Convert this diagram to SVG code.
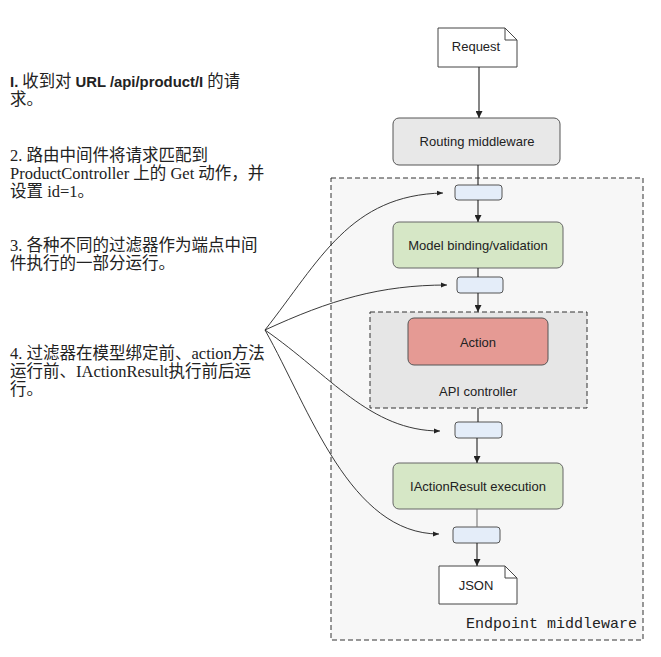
<svg xmlns="http://www.w3.org/2000/svg" width="661" height="657" viewBox="0 0 661 657">
<defs>
<marker id="arr" viewBox="0 0 10 10" refX="10" refY="5" markerWidth="7" markerHeight="7" markerUnits="userSpaceOnUse" orient="auto">
<path d="M0,0 L10,5 L0,10 z" fill="#222"/>
</marker>
<marker id="arrs" viewBox="0 0 10 10" refX="10" refY="5" markerWidth="6" markerHeight="6" markerUnits="userSpaceOnUse" orient="auto">
<path d="M0,1 L10,5 L0,9 z" fill="#222"/>
</marker>
</defs>
<style>
.node{font-family:"Liberation Sans",Arial,sans-serif;font-size:13px;fill:#222;text-anchor:middle}
.note{font-family:"Liberation Serif","Noto Sans CJK SC",serif;font-size:16.5px;fill:#222}
.b{font-family:"Liberation Sans","Noto Sans CJK SC",sans-serif;font-weight:bold;font-size:15px}
.filter{fill:#e4edf9;stroke:#555;stroke-width:1}
.green{fill:#d6e7c6;stroke:#666;stroke-width:1}
.doc{fill:#fff;stroke:#444;stroke-width:1}
.conn{stroke:#222;stroke-width:1.1;fill:none}
.curve{stroke:#222;stroke-width:0.9;fill:none}
</style>
<rect width="661" height="657" fill="#fff"/>

<g id="endpoint">
<rect x="331" y="178" width="312" height="462" fill="#f7f7f7" stroke="#333" stroke-width="1" stroke-dasharray="5,3"/>
<text x="637" y="628" font-family="'Liberation Mono','Courier New',monospace" font-size="15" fill="#222" text-anchor="end">Endpoint middleware</text>
</g>

<g id="api-controller">
<rect x="370" y="312" width="217" height="96" fill="#e6e6e6" stroke="#333" stroke-width="1" stroke-dasharray="5,3"/>
<text class="node" x="478" y="396">API controller</text>
</g>

<g id="request">
<path class="doc" d="M438,28 H505 L517,40 V67 H438 Z"/>
<path d="M505,28 V40 H517" fill="none" stroke="#444" stroke-width="1"/>
<text class="node" x="476" y="51">Request</text>
</g>

<g id="routing">
<rect x="393" y="118" width="167" height="47" rx="6" fill="#e8e8e8" stroke="#555"/>
<text class="node" x="477" y="146">Routing middleware</text>
</g>

<g id="filter1"><rect class="filter" x="455" y="185" width="47" height="15" rx="3"/></g>

<g id="model-binding">
<rect class="green" x="393" y="222" width="170" height="46" rx="6"/>
<text class="node" x="478" y="250">Model binding/validation</text>
</g>

<g id="filter2"><rect class="filter" x="457" y="277" width="46" height="16" rx="3"/></g>

<g id="action">
<rect x="408" y="318" width="140" height="47" rx="6" fill="#e59a94" stroke="#555"/>
<text class="node" x="478" y="347">Action</text>
</g>

<g id="filter3"><rect class="filter" x="455" y="422" width="47" height="16" rx="3"/></g>

<g id="iactionresult">
<rect class="green" x="393" y="463" width="170" height="46" rx="6"/>
<text class="node" x="478" y="491">IActionResult execution</text>
</g>

<g id="filter4"><rect class="filter" x="453" y="527" width="47" height="16" rx="3"/></g>

<g id="json">
<path class="doc" d="M439,566 H505 L517,578 V604 H439 Z"/>
<path d="M505,566 V578 H517" fill="none" stroke="#444" stroke-width="1"/>
<text class="node" x="476" y="590">JSON</text>
</g>

<g id="connectors">
<line class="conn" x1="479" y1="67" x2="479" y2="118" marker-end="url(#arr)"/>
<line class="conn" x1="478" y1="165" x2="478" y2="185"/>
<line class="conn" x1="478" y1="200" x2="478" y2="222" marker-end="url(#arr)"/>
<line class="conn" x1="478" y1="268" x2="478" y2="277"/>
<line class="conn" x1="478" y1="293" x2="478" y2="312" marker-end="url(#arr)"/>
<line class="conn" x1="478" y1="408" x2="478" y2="422"/>
<line class="conn" x1="477" y1="438" x2="477" y2="463" marker-end="url(#arr)"/>
<line x1="477" y1="509" x2="477" y2="527" stroke="#777" stroke-width="1.1"/>
<line class="conn" x1="477" y1="543" x2="477" y2="566" marker-end="url(#arr)"/>
<path class="curve" d="M265,330 C320,260 350,195 443,193" marker-end="url(#arrs)"/>
<path class="curve" d="M265,330 C330,300 380,285 447,285" marker-end="url(#arrs)"/>
<path class="curve" d="M265,330 C330,375 370,431 440,431" marker-end="url(#arrs)"/>
<path class="curve" d="M265,330 C310,410 350,534 439,534" marker-end="url(#arrs)"/>
</g>

<g id="notes">
<text class="note" x="10" y="87" textLength="230" lengthAdjust="spacingAndGlyphs"><tspan class="b">I.</tspan> 收到对 <tspan class="b">URL /api/product/I</tspan> 的请</text>
<text class="note" x="10" y="105">求。</text>
<text class="note" x="10" y="161">2. 路由中间件将请求匹配到</text>
<text class="note" x="10" y="179">ProductController 上的 Get 动作，并</text>
<text class="note" x="10" y="197">设置 id=1。</text>
<text class="note" x="10" y="251">3. 各种不同的过滤器作为端点中间</text>
<text class="note" x="10" y="269">件执行的一部分运行。</text>
<text class="note" x="10" y="359">4. 过滤器在模型绑定前、action方法</text>
<text class="note" x="10" y="377">运行前、IActionResult执行前后运</text>
<text class="note" x="10" y="395">行。</text>
</g>
</svg>
